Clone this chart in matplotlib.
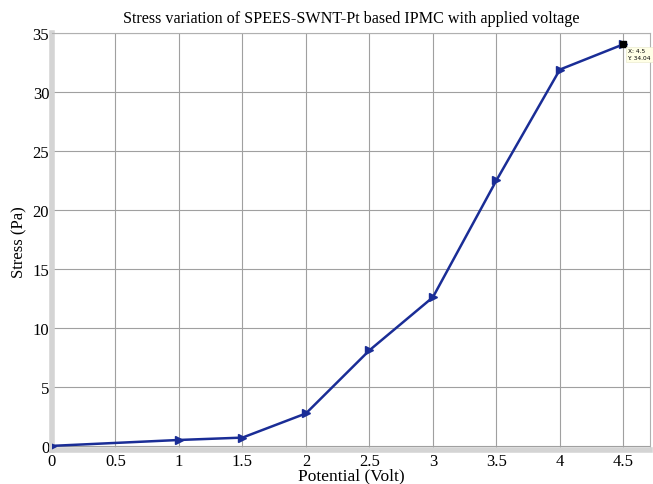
import numpy as np
import matplotlib
matplotlib.use('Agg')
import matplotlib.pyplot as plt

# values
voltage = [0, 1, 1.5, 2, 2.5, 3, 3.5, 4, 4.5]
stress = [0.0, 0.5, 0.7, 2.75, 8.1, 12.6, 22.5, 31.9, 34.04]
xticks = [0, 0.5, 1, 1.5, 2, 2.5, 3, 3.5, 4, 4.5]
xticklabels = ['0', '0.5', '1', '1.5', '2', '2.5', '3', '3.5', '4', '4.5']
yticks = [0, 5, 10, 15, 20, 25, 30, 35]

plt.rcParams['font.family'] = ['Liberation Serif', 'DejaVu Serif']

fig = plt.figure(figsize=(6.53, 4.85), dpi=100)
ax = fig.add_axes([52 / 653, 1 - 451 / 485, 598 / 653, 417 / 485])

line_color = '#1a2d96'
ax.plot(voltage, stress, color=line_color, linewidth=1.8, marker='>',
        markersize=6, markerfacecolor=line_color, markeredgecolor=line_color, zorder=3)

# data tip at the last point
ax.plot(voltage[-1], stress[-1], marker='s', color='black', markersize=4, zorder=4)
ax.annotate('X: 4.5\nY: 34.04', xy=(voltage[-1], stress[-1]), xytext=(3, -3),
            textcoords='offset points', ha='left', va='top', fontsize=4.2,
            family='DejaVu Sans', linespacing=1.4,
            bbox=dict(boxstyle='square,pad=0.3', fc='#ffffe6', ec='#ececd0', lw=0.5),
            zorder=5)

ax.set_xlim(0, 4.71)
ax.set_ylim(-0.35, 35)
ax.set_xticks(xticks)
ax.set_xticklabels(xticklabels)
ax.set_yticks(yticks)
ax.tick_params(axis='x', length=0, labelsize=12, pad=2)
ax.tick_params(axis='y', length=0, labelsize=12, pad=2)
ax.grid(True, color='#a0a0a0', linewidth=0.8)
ax.set_axisbelow(True)

for side in ['left', 'bottom']:
    ax.spines[side].set_color('#d4d4d4')
    ax.spines[side].set_linewidth(4)
for side in ['top', 'right']:
    ax.spines[side].set_color('#b0b0b0')
    ax.spines[side].set_linewidth(0.8)

ax.set_title('Stress variation of SPEES-SWNT-Pt based IPMC with applied voltage',
             fontsize=11.6, pad=8)
ax.set_xlabel('Potential (Volt)', fontsize=12.5, labelpad=-1)
ax.set_ylabel('Stress (Pa)', fontsize=12, labelpad=4)

plt.savefig('out.png', dpi=100)
